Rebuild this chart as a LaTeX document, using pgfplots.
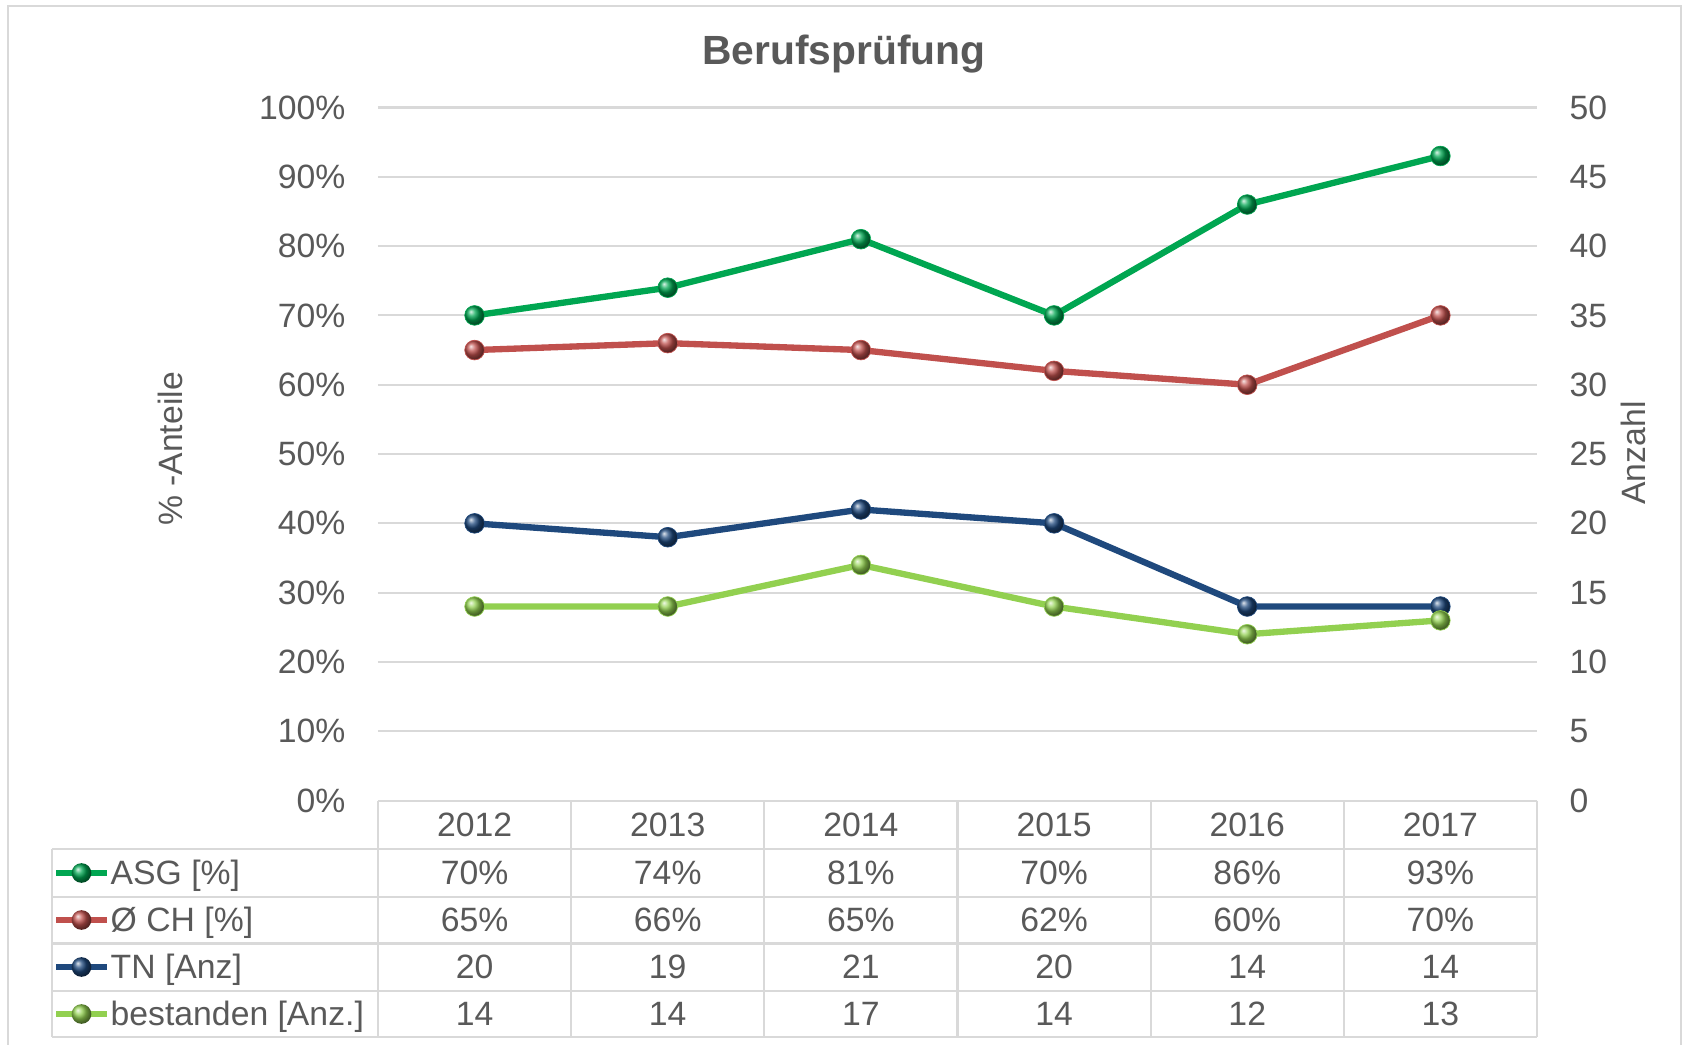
\documentclass[border=0pt]{standalone}
\usepackage{fontspec}
\setmainfont{Liberation Sans}
\usepackage{pgfplots}
\pgfplotsset{compat=1.18}
\definecolor{asgc}{RGB}{0,166,81}
\definecolor{chc}{RGB}{192,80,77}
\definecolor{tnc}{RGB}{31,73,125}
\definecolor{bestc}{RGB}{146,208,80}
\definecolor{gridc}{RGB}{217,217,217}
\definecolor{txtc}{RGB}{89,89,89}
\newcommand\tfont{\fontsize{9.6}{11.5}\selectfont}
\begin{document}
\begin{tikzpicture}[x=1cm,y=1cm]
\useasboundingbox (0,0) rectangle (16.85,10.45);
% outer frame
\draw[gridc, line width=0.8pt] (0.08,0) -- (0.08,10.39) -- (16.81,10.39) -- (16.81,0);
\begin{axis}[
  at={(3.78cm,2.444cm)}, anchor=south west, scale only axis,
  width=11.59cm, height=6.931cm,
  xmin=-0.5, xmax=5.5, ymin=0, ymax=100,
  xtick=\empty,
  ytick={0,10,...,100},
  yticklabel={\pgfmathprintnumber{\tick}\%},
  /pgf/number format/assume math mode=true,
  major tick length=0pt,
  axis line style={draw=none},
  ymajorgrids, major grid style={gridc, line width=0.6pt},
  yticklabel style={font=\tfont, color=txtc, anchor=east, inner sep=0pt, xshift=-3.2mm},
  clip=false,
]
\addplot[asgc, line width=1.8pt, mark=ball, mark size=2.8pt, mark options={ball color=asgc, line width=0.2pt}]
  coordinates {(0,70) (1,74) (2,81) (3,70) (4,86) (5,93)};
\addplot[chc, line width=1.8pt, mark=ball, mark size=2.8pt, mark options={ball color=chc, line width=0.2pt}]
  coordinates {(0,65) (1,66) (2,65) (3,62) (4,60) (5,70)};
\end{axis}
\begin{axis}[
  at={(3.78cm,2.444cm)}, anchor=south west, scale only axis,
  width=11.59cm, height=6.931cm,
  xmin=-0.5, xmax=5.5, ymin=0, ymax=50,
  axis y line*=right, axis x line=none,
  xtick=\empty,
  ytick={0,5,...,50},
  /pgf/number format/assume math mode=true,
  major tick length=0pt,
  axis line style={draw=none},
  yticklabel style={font=\tfont, color=txtc, anchor=west, inner sep=0pt, xshift=3.2mm},
  clip=false,
]
\addplot[tnc, line width=1.8pt, mark=ball, mark size=2.8pt, mark options={ball color=tnc, line width=0.2pt}]
  coordinates {(0,20) (1,19) (2,21) (3,20) (4,14) (5,14)};
\addplot[bestc, line width=1.8pt, mark=ball, mark size=2.8pt, mark options={ball color=bestc, line width=0.2pt}]
  coordinates {(0,14) (1,14) (2,17) (3,14) (4,12) (5,13)};
\end{axis}
% title and axis labels
\node[font=\fontsize{11.6}{13.5}\selectfont\bfseries, color=txtc, anchor=base] at (8.44,9.80) {Berufsprüfung};
\node[font=\tfont, color=txtc, rotate=90] at (1.70,5.96) {\% -Anteile};
\node[font=\tfont, color=txtc, rotate=90] at (16.33,5.92) {Anzahl};
% data table
\begin{scope}[gridc, line width=0.6pt]
\draw (3.78,2.444) -- (15.37,2.444);
\foreach \y in {1.96,1.48,1.015,0.54,0.08} \draw (0.52,\y) -- (15.37,\y);
\draw (0.52,1.96) -- (0.52,0.08);
\foreach \k in {0,...,6} \draw ({3.78+\k*1.93167},2.444) -- ({3.78+\k*1.93167},0.08);
\end{scope}
\foreach \lab [count=\i from 0] in {2012,2013,2014,2015,2016,2017}
  \node[font=\tfont, color=txtc] at ({4.7458+\i*1.93167},2.20) {\lab};
\foreach \lab [count=\i from 0] in {70\%,74\%,81\%,70\%,86\%,93\%}
  \node[font=\tfont, color=txtc] at ({4.7458+\i*1.93167},1.72) {\lab};
\foreach \lab [count=\i from 0] in {65\%,66\%,65\%,62\%,60\%,70\%}
  \node[font=\tfont, color=txtc] at ({4.7458+\i*1.93167},1.25) {\lab};
\foreach \lab [count=\i from 0] in {20,19,21,20,14,14}
  \node[font=\tfont, color=txtc] at ({4.7458+\i*1.93167},0.78) {\lab};
\foreach \lab [count=\i from 0] in {14,14,17,14,12,13}
  \node[font=\tfont, color=txtc] at ({4.7458+\i*1.93167},0.31) {\lab};
% legend keys
\foreach \c/\y/\t in {asgc/1.72/{ASG [\%]}, chc/1.25/{Ø CH [\%]}, tnc/0.78/{TN [Anz]}, bestc/0.31/{bestanden [Anz.]}} {
  \draw[\c, line width=1.8pt] (0.56,\y) -- (1.07,\y);
  \shade[ball color=\c] (0.815,\y) circle (2.8pt);
  \node[font=\tfont, color=txtc, anchor=base west, inner sep=0pt] at (1.10,\y-0.12) {\t};
}
\end{tikzpicture}
\end{document}
